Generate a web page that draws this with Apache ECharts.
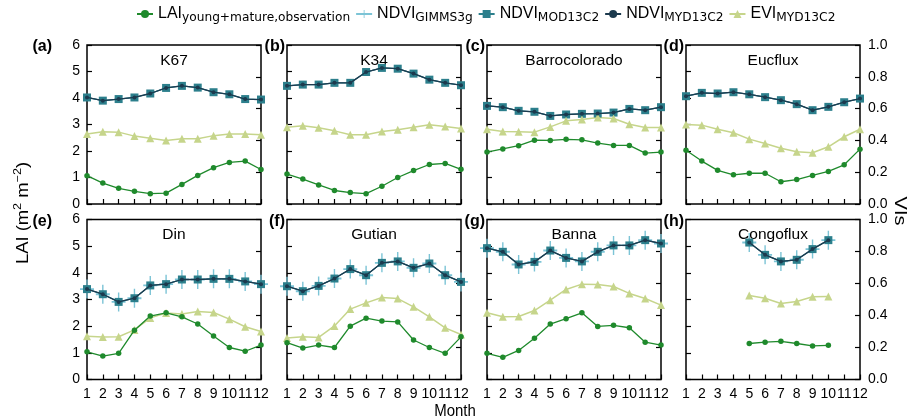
<!DOCTYPE html>
<html>
<head>
    <meta charset="utf-8">
    <title>ECharts</title>
    <script src="https://cdn.jsdelivr.net/npm/echarts@6/dist/echarts.min.js"></script>
</head>
<body style="margin:0;background:#fff;">
<div id="main" style="width: 909px;height:420px;"></div>
<script type="text/javascript">
    // months on the x axis
    var months = ['1', '2', '3', '4', '5', '6', '7', '8', '9', '10', '11', '12'];
    var sites = ['K67', 'K34', 'Barrocolorado', 'Eucflux', 'Din', 'Gutian', 'Banna', 'Congoflux'];
    var tags = ['(a)', '(b)', '(c)', '(d)', '(e)', '(f)', '(g)', '(h)'];

    // LAI (left axis, m2 m-2)
    var laiK67 = [1.07, 0.79, 0.59, 0.48, 0.39, 0.41, 0.74, 1.08, 1.37, 1.57, 1.62, 1.30];
    var laiK34 = [1.13, 0.94, 0.72, 0.51, 0.43, 0.39, 0.67, 1.00, 1.26, 1.49, 1.53, 1.31];
    var laiBarro = [1.96, 2.08, 2.20, 2.41, 2.40, 2.44, 2.42, 2.30, 2.21, 2.21, 1.92, 1.96];
    var laiEucflux = [2.03, 1.62, 1.27, 1.10, 1.16, 1.16, 0.84, 0.92, 1.08, 1.23, 1.48, 2.07];
    var laiDin = [1.04, 0.88, 0.98, 1.85, 2.38, 2.50, 2.35, 2.08, 1.63, 1.20, 1.06, 1.29];
    var laiGutian = [1.38, 1.18, 1.29, 1.20, 2.00, 2.30, 2.19, 2.16, 1.48, 1.20, 0.98, 1.60];
    var laiBanna = [0.98, 0.83, 1.09, 1.55, 2.08, 2.28, 2.50, 1.99, 2.03, 1.94, 1.40, 1.29];
    var laiCongo = [null, null, null, null, 1.35, 1.40, 1.43, 1.35, 1.26, 1.28, null, null];

    // NDVI (right axis) - GIMMS3g, MOD13C2 and MYD13C2 lie on top of each other
    var ndviK67 = [0.670, 0.650, 0.660, 0.670, 0.695, 0.730, 0.743, 0.732, 0.703, 0.690, 0.660, 0.657];
    var ndviK34 = [0.743, 0.751, 0.751, 0.762, 0.762, 0.830, 0.856, 0.851, 0.820, 0.782, 0.762, 0.747];
    var ndviBarro = [0.617, 0.609, 0.586, 0.580, 0.554, 0.563, 0.567, 0.569, 0.575, 0.598, 0.590, 0.609];
    var ndviEucflux = [0.678, 0.699, 0.695, 0.703, 0.690, 0.672, 0.653, 0.628, 0.590, 0.611, 0.640, 0.663];
    var ndviDin = [0.565, 0.533, 0.485, 0.508, 0.588, 0.596, 0.625, 0.625, 0.629, 0.629, 0.613, 0.596];
    var ndviGutian = [0.583, 0.552, 0.585, 0.631, 0.690, 0.652, 0.729, 0.738, 0.698, 0.725, 0.652, 0.610];
    var ndviBanna = [0.821, 0.798, 0.719, 0.735, 0.806, 0.760, 0.738, 0.798, 0.838, 0.838, 0.871, 0.850];
    var ndviCongo = [null, null, null, null, 0.856, 0.779, 0.738, 0.748, 0.815, 0.871, null, null];

    // EVI MYD13C2 (right axis)
    var eviK67 = [0.440, 0.454, 0.452, 0.427, 0.414, 0.400, 0.410, 0.410, 0.430, 0.440, 0.440, 0.435];
    var eviK34 = [0.483, 0.492, 0.479, 0.460, 0.435, 0.435, 0.456, 0.467, 0.483, 0.498, 0.487, 0.475];
    var eviBarro = [0.470, 0.456, 0.454, 0.452, 0.485, 0.523, 0.531, 0.544, 0.538, 0.502, 0.481, 0.481];
    var eviEucflux = [0.500, 0.496, 0.470, 0.448, 0.408, 0.381, 0.351, 0.328, 0.322, 0.360, 0.423, 0.470];
    var eviDin = [0.270, 0.265, 0.267, 0.310, 0.385, 0.415, 0.410, 0.425, 0.419, 0.377, 0.330, 0.300];
    var eviGutian = [0.260, 0.267, 0.263, 0.335, 0.440, 0.479, 0.513, 0.506, 0.454, 0.392, 0.323, 0.281];
    var eviBanna = [0.417, 0.392, 0.394, 0.431, 0.496, 0.563, 0.596, 0.594, 0.581, 0.538, 0.506, 0.465];
    var eviCongo = [null, null, null, null, 0.525, 0.508, 0.475, 0.488, 0.517, 0.519, null, null];

    var laiAll = [laiK67, laiK34, laiBarro, laiEucflux, laiDin, laiGutian, laiBanna, laiCongo];
    var ndviAll = [ndviK67, ndviK34, ndviBarro, ndviEucflux, ndviDin, ndviGutian, ndviBanna, ndviCongo];
    var eviAll = [eviK67, eviK34, eviBarro, eviEucflux, eviDin, eviGutian, eviBanna, eviCongo];

    var legendNames = ['LAI', 'GIMMS', 'MOD', 'MYD', 'EVI'];
    var legendMain = {LAI: 'LAI', GIMMS: 'NDVI', MOD: 'NDVI', MYD: 'NDVI', EVI: 'EVI'};
    var legendSub = {LAI: 'young+mature,observation', GIMMS: 'GIMMS3g', MOD: 'MOD13C2', MYD: 'MYD13C2', EVI: 'MYD13C2'};

    var font = 'Liberation Sans';
    var plusPath = 'path://M9,0H11V9H20V11H11V20H9V11H0V9H9Z';

    var colLeft = [87, 287, 487, 686];
    var rowTop = [45, 219.5];
    var panelW = 174;
    var panelH = [159, 160];

    var grids = [], xAxes = [], yAxes = [], series = [], graphics = [];

    for (var i = 0; i < 8; i++) {
        var col = i % 4, row = Math.floor(i / 4);
        grids.push({
            left: colLeft[col], top: rowTop[row], width: panelW, height: panelH[row],
            show: true, borderColor: '#000', borderWidth: 1.5
        });
        xAxes.push({
            type: 'category', gridIndex: i, data: months, boundaryGap: false,
            axisLine: {show: false},
            axisTick: {show: true, inside: true, length: 5, interval: 0, lineStyle: {color: '#000', width: 1.2}},
            axisLabel: {show: row === 1, interval: 0, margin: 8, color: '#000', fontSize: 14, fontFamily: font},
            splitLine: {show: false}
        });
        yAxes.push({
            type: 'value', gridIndex: i, position: 'left', min: 0, max: 6, interval: 1,
            axisLine: {show: false},
            axisTick: {show: true, inside: true, length: 5, lineStyle: {color: '#000', width: 1.2}},
            axisLabel: {show: col === 0, margin: 7, color: '#000', fontSize: 14, fontFamily: font},
            splitLine: {show: false}
        });
        yAxes.push({
            type: 'value', gridIndex: i, position: 'right', min: 0, max: 1, interval: 0.2,
            axisLine: {show: false},
            axisTick: {show: true, inside: true, length: 5, lineStyle: {color: '#000', width: 1.2}},
            axisLabel: {
                show: col === 3, margin: 8, color: '#000', fontSize: 14, fontFamily: font,
                formatter: function (v) { return v.toFixed(1); }
            },
            splitLine: {show: false}
        });

        // NDVI GIMMS3g crosses
        series.push({
            name: 'GIMMS', type: 'line', xAxisIndex: i, yAxisIndex: 2 * i + 1, data: ndviAll[i],
            symbol: plusPath, symbolSize: [14, 19], showSymbol: true, z: 2,
            itemStyle: {color: '#7cc4d6'}, lineStyle: {color: '#7cc4d6', width: 1}
        });
        // NDVI MOD13C2 squares
        series.push({
            name: 'MOD', type: 'line', xAxisIndex: i, yAxisIndex: 2 * i + 1, data: ndviAll[i],
            symbol: 'rect', symbolSize: 8, showSymbol: true, z: 3,
            itemStyle: {color: '#2c7f8c'}, lineStyle: {color: '#2c7f8c', width: 1.2}
        });
        // NDVI MYD13C2 line
        series.push({
            name: 'MYD', type: 'line', xAxisIndex: i, yAxisIndex: 2 * i + 1, data: ndviAll[i],
            symbol: 'circle', symbolSize: 4, showSymbol: true, z: 4,
            itemStyle: {color: '#1c3a4e'}, lineStyle: {color: '#1c3a4e', width: 1.3}
        });
        // EVI MYD13C2
        series.push({
            name: 'EVI', type: 'line', xAxisIndex: i, yAxisIndex: 2 * i + 1, data: eviAll[i],
            symbol: 'triangle', symbolSize: 8, showSymbol: true, z: 3,
            itemStyle: {color: '#c6d58b'}, lineStyle: {color: '#c6d58b', width: 1.5}
        });
        // LAI
        series.push({
            name: 'LAI', type: 'line', xAxisIndex: i, yAxisIndex: 2 * i, data: laiAll[i],
            symbol: 'circle', symbolSize: 5.5, showSymbol: true, z: 4,
            itemStyle: {color: '#1f8a2c'}, lineStyle: {color: '#1f8a2c', width: 1.3}
        });

        // site name and panel tag
        graphics.push({
            type: 'text', x: colLeft[col] + panelW / 2, y: rowTop[row] + 15.5,
            style: {text: sites[i], fill: '#000', font: '15.5px "' + font + '"', align: 'center', verticalAlign: 'middle'}
        });
        graphics.push({
            type: 'text', x: col === 0 ? 52 : colLeft[col] - 2, y: rowTop[row] + 2,
            style: {text: tags[i], fill: '#000', font: 'bold 16px "' + font + '"', align: 'right', verticalAlign: 'middle'}
        });
    }

    // axis titles
    graphics.push({
        type: 'text', x: 22, y: 213, rotation: Math.PI / 2, scaleX: 1.15,
        style: {
            text: '{t|LAI (m}{u|2}{t| m}{u|\u22122}{t|)}', align: 'center', verticalAlign: 'middle',
            rich: {
                t: {fontSize: 16, fontFamily: font, fill: '#000', lineHeight: 19, verticalAlign: 'bottom'},
                u: {fontSize: 11, fontFamily: font, fill: '#000', lineHeight: 19, verticalAlign: 'top'}
            }
        }
    });
    graphics.push({
        type: 'text', x: 899, y: 211, rotation: -Math.PI / 2, scaleX: 1.25,
        style: {text: 'VIs', fill: '#000', font: '16px "' + font + '"', align: 'center', verticalAlign: 'middle'}
    });
    graphics.push({
        type: 'text', x: 455, y: 411, scaleY: 1.15,
        style: {text: 'Month', fill: '#000', font: '15px "' + font + '"', align: 'center', verticalAlign: 'middle'}
    });

    var option = {
        animation: false,
        backgroundColor: '#fff',
        legend: {
            data: legendNames,
            left: 131, top: 1,
            itemWidth: 16, itemHeight: 10, itemGap: 5,
            formatter: function (name) {
                return '{m|' + legendMain[name] + '}{s|' + legendSub[name] + '}';
            },
            textStyle: {
                color: '#000',
                rich: {
                    m: {fontSize: 16, fontFamily: font, lineHeight: 20, verticalAlign: 'bottom', padding: [0, 0, 2, 0]},
                    s: {fontSize: 12.2, fontFamily: 'DejaVu Sans', lineHeight: 20, verticalAlign: 'bottom'}
                }
            }
        },
        grid: grids,
        xAxis: xAxes,
        yAxis: yAxes,
        series: series,
        graphic: graphics
    };

    var myChart = echarts.init(document.getElementById('main'));
    myChart.setOption(option);
</script>
</body>
</html>
